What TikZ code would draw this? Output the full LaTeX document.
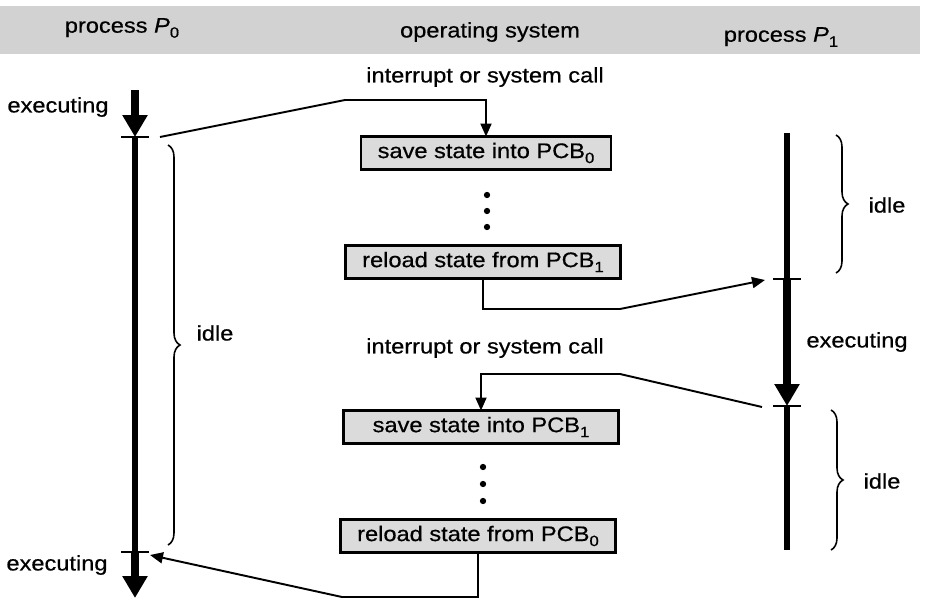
\documentclass[tikz,border=0pt]{standalone}
\usepackage{fontspec}
\setmainfont{Liberation Sans}[FakeStretch=1.12, FakeBold=0.6]
\usetikzlibrary{
  calc,
  arrows.meta,
  positioning,
  decorations.pathreplacing,
}
\tikzset{
  lbl/.style = {inner sep=1pt},
  osbox/.style = {draw=black, line width=1.2pt, fill=gray!28,
      minimum width=#1, minimum height=0.66cm,
      inner sep=0pt, outer sep=0pt},
  osbox/.default = 5.5cm, % width of the box
  conn/.style = {line width=1.1pt,
      -{Triangle[length=0.26cm, width=0.22cm]}},
  idleline/.style = {line width=3pt},
  execline/.style = {line width=5pt,
      -{Triangle[length=0.44cm, width=0.48cm]}},
  tickmark/.style = {line width=1pt},
  idlebrace/.style = {line width=0.9pt,
      decorate, decoration={brace, amplitude=0.24cm}},
}
\newcommand{\lowsub}[1]{\raisebox{-0.45ex}{\fontsize{8.5}{9}\selectfont #1}}

\begin{document}
\begin{tikzpicture}[x=0.02cm, y=-0.02cm, font=\fontsize{12}{14}\selectfont]
  \useasboundingbox (0,0) rectangle (929,611);

  % header band
  \fill[gray!35] (0,6) rectangle (920,54);
  \node[lbl] (hp0) at (122,28) {process \textit{P}\lowsub{0}};
  \node[lbl] (hos) at (490,32) {operating system};
  \node[lbl] (hp1) at (781,37) {process \textit{P}\lowsub{1}};

  % time lines
  \coordinate (p0start) at (135,90);
  \coordinate (p0sw1) at (135,137);
  \coordinate (p0sw2) at (135,552);
  \coordinate (p0end) at (135,598);

  \coordinate (p1start) at (787,133);
  \coordinate (p1sw1) at (787,279);
  \coordinate (p1sw2) at (787,406);
  \coordinate (p1end) at (787,550);

  \draw[execline] (p0start) -- (p0sw1);
  \draw[idleline] (p0sw1) -- (p0sw2);
  \draw[execline] (p0sw2) -- (p0end);

  \draw[idleline] (p1start) -- (p1sw1);
  \draw[execline] (p1sw1) -- (p1sw2);
  \draw[idleline] (p1sw2) -- (p1end);

  \foreach \t in {p0sw1, p0sw2, p1sw1, p1sw2}
    \draw[tickmark] ($(\t)+(-14,0)$) -- ($(\t)+(14,0)$);

  \node[lbl] (ex0) at (58,107) {executing};
  \node[lbl] (ex1) at (57,565) {executing};
  \node[lbl] (ex2) at (857,342) {executing};

  % idle braces
  \draw[idlebrace] (168,145) -- (168,545);
  \node[lbl] (id0) at (215,333) {idle};
  \draw[idlebrace] (836,135) -- (836,273);
  \node[lbl] (id1) at (887,205) {idle};
  \draw[idlebrace] (831,410) -- (831,550);
  \node[lbl] (id2) at (882,481) {idle};

  % operating system
  \node[lbl] (irq0) at (485,77) {interrupt or system call};
  \node[osbox=5cm] (box1) at (486,153) {save state into PCB\lowsub{0}};
  \node[osbox] (box2) at (483,262) {reload state from PCB\lowsub{1}};
  \node[lbl] (irq1) at (485,348) {interrupt or system call};
  \node[osbox] (box3) at (481,427) {save state into PCB\lowsub{1}};
  \node[osbox] (box4) at (478,536) {reload state from PCB\lowsub{0}};

  \foreach \y in {195,211,227}
    \fill (487,\y) circle (1.8pt);
  \foreach \y in {467,484,501}
    \fill (483,\y) circle (1.8pt);

  % switches
  \coordinate (c1a) at (160,137);
  \coordinate (c1b) at (345,100);
  \draw[conn] (c1a) -- (c1b) -| (box1.north);

  \coordinate (c2a) at (620,309);
  \coordinate (c2b) at (765,280);
  \draw[conn] (box2.south) |- (c2a) -- (c2b);

  \coordinate (c3a) at (762,407);
  \coordinate (c3b) at (620,374);
  \draw[conn] (c3a) -- (c3b) -| (box3.north);

  \coordinate (c4a) at (342,597);
  \coordinate (c4b) at (150,555);
  \draw[conn] (box4.south) |- (c4a) -- (c4b);
\end{tikzpicture}
\end{document}
